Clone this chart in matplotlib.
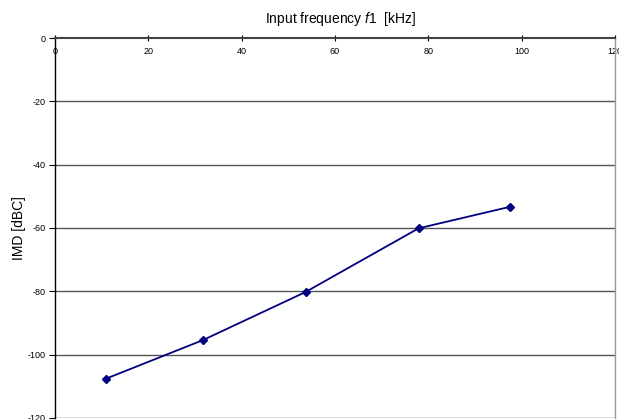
import matplotlib
matplotlib.use("Agg")
import matplotlib.pyplot as plt

plt.rcParams['font.family'] = ['Liberation Sans', 'DejaVu Sans']
plt.rcParams['axes.unicode_minus'] = False
plt.rcParams['mathtext.fontset'] = 'custom'
plt.rcParams['mathtext.rm'] = 'Liberation Sans'
plt.rcParams['mathtext.it'] = 'Liberation Sans:italic'

freq_khz = [10.9, 31.7, 53.7, 77.9, 97.5]
imd_dbc = [-107.6, -95.4, -80.2, -60.1, -53.3]

x_ticks = [0, 20, 40, 60, 80, 100, 120]
y_ticks = [0, -20, -40, -60, -80, -100, -120]

fig = plt.figure(figsize=(6.19, 4.2), dpi=100)
ax = fig.add_axes([0.0889, 0.0048, 0.9047, 0.9047])

ax.plot(freq_khz, imd_dbc, color="#000080", lw=1.3, marker="D",
        markersize=4.5, markerfacecolor="#000080", markeredgecolor="#000080",
        zorder=3)

ax.set_xlim(0, 120)
ax.set_ylim(-120, 0)
ax.set_xticks(x_ticks)
ax.set_yticks(y_ticks)

for y in y_ticks[1:]:
    ax.axhline(y, color="#555555", lw=1.0, zorder=1)

ax.xaxis.tick_top()
ax.tick_params(axis="x", top=True, bottom=False, labeltop=True,
               labelbottom=False, direction="inout", length=4, width=0.8,
               pad=-15, labelsize=6.5)
ax.tick_params(axis="y", direction="out", length=4, width=0.8, labelsize=6.5,
               pad=3)

ax.spines["bottom"].set_visible(False)
ax.spines["top"].set_color("#444444")
ax.spines["top"].set_linewidth(1.5)
ax.spines["left"].set_color("black")
ax.spines["left"].set_linewidth(1.0)
ax.spines["right"].set_color("#999999")
ax.spines["right"].set_linewidth(1.0)

fig.text(0.551, 0.955, r"Input frequency $\it{f1}$  [kHz]", ha="center",
         va="center", fontsize=10)
ax.set_ylabel("IMD [dBC]", fontsize=10, labelpad=1)

fig.savefig("out.png", dpi=100)
